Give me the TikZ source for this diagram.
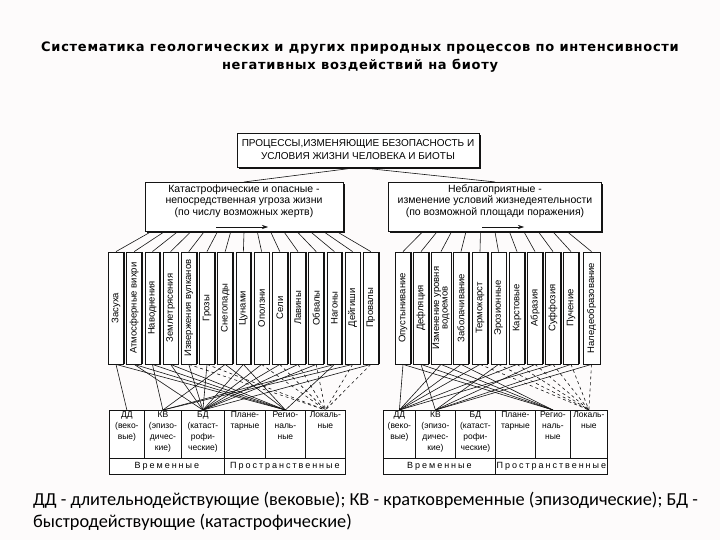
\documentclass[tikz,border=0pt]{standalone}
\usepackage{fontspec}
\setmainfont{Liberation Sans}
\newfontfamily\titlefont[LetterSpace=5.5]{DejaVu Sans}
\newfontfamily\notefont{Carlito}
\newfontfamily\spacedfont[LetterSpace=22]{Liberation Sans}
\usetikzlibrary{arrows.meta, positioning, calc, shadows}
\definecolor{cpage}{HTML}{FDFBFB}
\definecolor{cline}{HTML}{141414}

\begin{document}
\begin{tikzpicture}[
  x=1pt, y=-1pt,
  font=\fontsize{9}{11}\selectfont,
  >={Stealth[length=6pt, width=4pt]},
  box/.style={draw=cline, line width=0.9pt, fill=white, align=center, inner sep=2pt,
              drop shadow={shadow xshift=1.6pt, shadow yshift=-1.6pt, fill=cline, opacity=1}},
  vbox/.style={draw=cline, line width=0.8pt, fill=white, rotate=90, minimum width=112pt,
               inner sep=1pt, align=center, font=\fontsize{9.5}{8.5}\selectfont},
  cell/.style={draw=cline, line width=0.8pt, fill=white, inner sep=0pt, anchor=north west},
  celltext/.style={anchor=north, align=center, inner sep=1.5pt, font=\fontsize{8.5}{11}\selectfont},
  link/.style={draw=cline, line width=0.6pt},
  heavy/.style={draw=cline, line width=1.8pt},
  note/.style={anchor=base west, inner sep=0pt, font=\notefont\fontsize{18.3}{22}\selectfont},
  ]
\useasboundingbox (0,0) rectangle (720,540);
\fill[cpage] (0,0) rectangle (720,540);

\node[align=center, font=\titlefont\bfseries\fontsize{13}{18}\selectfont] (title) at (360,57)
  {Систематика геологических и других природных процессов по интенсивности\\негативных воздействий на биоту};

\node[box, minimum width=242pt, minimum height=34pt, font=\fontsize{10}{13}\selectfont] (procB) at (358,150)
  {ПРОЦЕССЫ,ИЗМЕНЯЮЩИЕ БЕЗОПАСНОСТЬ И\\УСЛОВИЯ ЖИЗНИ ЧЕЛОВЕКА И БИОТЫ};
\node[box, minimum width=198pt, minimum height=47pt, font=\fontsize{10.5}{11.5}\selectfont] (catB) at (244,207)
  {Катастрофические и опасные -\\непосредственная угроза жизни\\(по числу возможных жертв)\\[3pt]};
\node[box, minimum width=213pt, minimum height=47pt, font=\fontsize{10.5}{11.5}\selectfont] (unfB) at (495,207)
  {Неблагоприятные -\\изменение условий жизнедеятельности\\(по возможной площади поражения)\\[3pt]};

\draw[link] (procB.south) -- (catB.north);
\draw[link] (procB.south) -- (unfB.north);

\coordinate (catArrS) at (216,227);
\coordinate (catArrE) at (268,227);
\coordinate (unfArrS) at (482,227);
\coordinate (unfArrE) at (524,227);
\draw[link, ->] (catArrS) -- (catArrE);
\draw[link, ->] (unfArrS) -- (unfArrE);

\foreach \i/\txt in {1/Засуха, 2/Атмосферные вихри, 3/Наводнения, 4/Землетрясения,
    5/Извержения вулканов, 6/Грозы, 7/Снегопады, 8/Цунами, 9/Оползни, 10/Сели,
    11/Лавины, 12/Обвалы, 13/Нагоны, 14/Дейгиши, 15/Провалы} {
  \pgfmathsetmacro\cx{116+18.2*(\i-1)}
  \pgfmathsetmacro\fr{0.03+0.94*(\i-1)/14}
  \node[vbox, minimum height=15pt] (vL\i) at (\cx,308) {\txt};
  \draw[heavy] (vL\i.south west) -- (vL\i.south east);
  \draw[link] ($(catB.south west)!\fr!(catB.south east)$) -- (vL\i.east);
}

\foreach \i/\cx/\cw/\txt in {1/403/15/Опустынивание, 2/421/15/Дефляция,
    3/441/20/{Изменение уровня\\водоемов}, 4/461/15/Заболачивание, 5/480/15/Термокарст,
    6/498.5/15/Эрозионные, 7/517/15/Карстовые, 8/535/15/Абразия, 9/553/15/Суффозия,
    10/571/15/Пучение, 11/591.5/17/Наледеобразование} {
  \pgfmathsetmacro\fr{0.16+0.68*(\i-1)/10}
  \node[vbox, minimum height=\cw pt] (vR\i) at (\cx,308) {\txt};
  \draw[heavy] (vR\i.south west) -- (vR\i.south east);
  \draw[link] ($(unfB.south west)!\fr!(unfB.south east)$) -- (vR\i.east);
}

\foreach \cn/\cx/\cw/\txt in {ddL/109/35/{ДД\\(веко-\\вые)}, kvL/144/37/{КВ\\(эпизо-\\дичес-\\кие)},
    bdL/181/43/{БД\\(катаст-\\рофи-\\ческие)}, plL/224/41/{Плане-\\тарные},
    rgL/265/40/{Регио-\\наль-\\ные}, lcL/305/40/{Локаль-\\ные},
    ddR/383/32/{ДД\\(веко-\\вые)}, kvR/415/40/{КВ\\(эпизо-\\дичес-\\кие)},
    bdR/455/40/{БД\\(катаст-\\рофи-\\ческие)}, plR/495/40/{Плане-\\тарные},
    rgR/535/35/{Регио-\\наль-\\ные}, lcR/570/37/{Локаль-\\ные}} {
  \node[cell, minimum width=\cw pt, minimum height=48pt] (\cn) at (\cx,410) {};
  \node[celltext] at (\cn.north) {\txt};
}
\node[cell, minimum width=115pt, minimum height=16pt, font=\spacedfont\fontsize{9}{11}\selectfont] (timeL) at (109,458) {Временные};
\node[cell, minimum width=121pt, minimum height=16pt, font=\spacedfont\fontsize{9}{11}\selectfont] (spaceL) at (224,458) {Пространственные};
\node[cell, minimum width=112pt, minimum height=16pt, font=\spacedfont\fontsize{9}{11}\selectfont] (timeR) at (383,458) {Временные};
\node[cell, minimum width=112pt, minimum height=16pt, font=\spacedfont\fontsize{9}{11}\selectfont] (spaceR) at (495,458) {Пространственные};

\foreach \i/\ta/\sa/\ss in {1/ddL/rgL/solid, 2/bdL/rgL/solid, 3/kvL/rgL/solid, 4/bdL/rgL/solid,
    5/bdL/lcL/dashed, 6/bdL/lcL/dashed, 7/kvL/rgL/solid, 8/bdL/rgL/solid, 9/bdL/lcL/dashed,
    10/bdL/lcL/dashed, 11/bdL/lcL/dashed, 12/bdL/lcL/dashed, 13/kvL/rgL/solid,
    14/kvL/lcL/dashed, 15/bdL/lcL/dashed} {
  \draw[link] (vL\i.west) -- (\ta.north);
  \draw[link, \ss] (vL\i.west) -- (\sa.north);
}
\foreach \i/\ta/\sa/\ss in {1/ddR/rgR/solid, 2/kvR/rgR/solid, 3/ddR/rgR/solid, 4/ddR/rgR/solid,
    5/ddR/lcR/dashed, 6/kvR/lcR/dashed, 7/ddR/lcR/dashed, 8/kvR/lcR/dashed,
    9/ddR/lcR/dashed, 10/kvR/lcR/dashed, 11/kvR/lcR/dashed} {
  \draw[link] (vR\i.west) -- (\ta.north);
  \draw[link, \ss] (vR\i.west) -- (\sa.north);
}

\node[note] (note1) at (33,505) {ДД - длительнодействующие (вековые); КВ - кратковременные (эпизодические); БД -};
\node[note] (note2) at (33,527) {быстродействующие (катастрофические)};
\end{tikzpicture}
\end{document}
